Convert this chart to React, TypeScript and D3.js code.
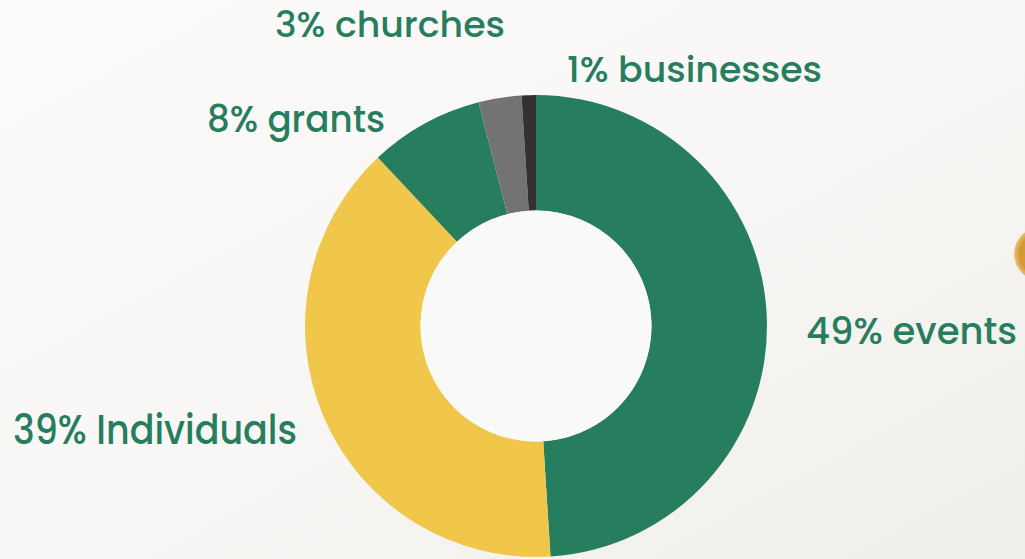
import React from "react";
import * as d3 from "d3";

const categories = ["events", "Individuals", "grants", "churches", "businesses"];
const values = [49, 39, 8, 3, 1];
const colors = ["#277e5e", "#f0c74b", "#277e5e", "#737373", "#363131"];
const labelText = ["49% events", "39% Individuals", "8% grants", "3% churches", "1% businesses"];

const W = 1025;
const H = 559;
const cx = 536;
const cy = 326;
const outerR = 231;
const innerR = 115.5;

// label placement (layout, not data)
const labelPos = [
  { x: 1017, y: 344, size: 37, w: 0, anchor: "end" },
  { x: 13, y: 444, size: 40, w: 284, anchor: "start" },
  { x: 207, y: 132, size: 38, w: 178, anchor: "start" },
  { x: 275, y: 37, size: 35, w: 230, anchor: "start" },
  { x: 567, y: 82, size: 35, w: 255, anchor: "start" },
];

export default function App() {
  const pie = d3
    .pie<number>()
    .sort(null)
    .startAngle(0)
    .endAngle(2 * Math.PI)
    .value((d) => d);
  const arcs = pie(values);
  const arc = d3.arc<d3.PieArcDatum<number>>().innerRadius(innerR).outerRadius(outerR);

  return (
    <svg
      width={W}
      height={H}
      viewBox={`0 0 ${W} ${H}`}
      style={{ position: "fixed", left: 0, top: 0, display: "block" }}
    >
      <defs>
        <linearGradient id="bg" x1="0" y1="0" x2="1" y2="1">
          <stop offset="0" stopColor="#fcfbfa" />
          <stop offset="0.5" stopColor="#f9f7f5" />
          <stop offset="1" stopColor="#f0eeea" />
        </linearGradient>
        <radialGradient id="gold" cx="0.5" cy="0.5" r="0.5">
          <stop offset="0.8" stopColor="#d49a2f" />
          <stop offset="1" stopColor="#e8c47a" />
        </radialGradient>
      </defs>
      <rect x={0} y={0} width={W} height={H} fill="url(#bg)" />
      <circle cx={1041} cy={254} r={27} fill="url(#gold)" />
      <g transform={`translate(${cx},${cy})`}>
        {arcs.map((a, i) => (
          <path key={categories[i]} d={arc(a) || ""} fill={colors[i]} />
        ))}
        <circle r={innerR} fill="#f9f9f7" />
      </g>
      {labelText.map((t, i) => (
        <text
          key={t}
          x={labelPos[i].x}
          y={labelPos[i].y}
          fontSize={labelPos[i].size}
          fontFamily="Poppins, 'Open Sans', Lato, sans-serif"
          fontWeight={500}
          fill="#277e5e"
          textAnchor={labelPos[i].anchor}
          textLength={labelPos[i].w || undefined}
          lengthAdjust={labelPos[i].w ? "spacingAndGlyphs" : undefined}
        >
          {t}
        </text>
      ))}
    </svg>
  );
}
